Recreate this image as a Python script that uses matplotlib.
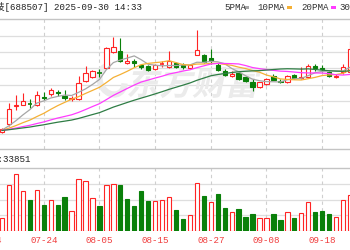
import matplotlib
matplotlib.use("Agg")
import matplotlib.pyplot as plt
import numpy as np
from matplotlib.patches import Rectangle, PathPatch, Arc
from matplotlib.lines import Line2D
from matplotlib.textpath import TextPath
from matplotlib.font_manager import FontProperties
from matplotlib.transforms import Affine2D

# ---------------- data ----------------
trade_dates = ["07-14", "07-15", "07-16", "07-17", "07-18", "07-21", "07-22", "07-23", "07-24", "07-25",
               "07-28", "07-29", "07-30", "07-31", "08-01", "08-04", "08-05", "08-06", "08-07", "08-08",
               "08-11", "08-12", "08-13", "08-14", "08-15", "08-18", "08-19", "08-20", "08-21", "08-22",
               "08-25", "08-26", "08-27", "08-28", "08-29", "09-01", "09-02", "09-03", "09-04", "09-05",
               "09-08", "09-09", "09-10", "09-11", "09-12", "09-15", "09-16", "09-17", "09-18", "09-19",
               "09-22", "09-23", "09-24"]
candle_dates = trade_dates[2:]

opens = [63.6, 65.2, 68.8, 69.1, 69.3, 69.0, 70.66, 71.2, 71.66, 70.86,
         70.26, 70.2, 73.86, 74.66, 75.5, 76.4, 79.6, 79.86, 77.34, 77.7,
         76.9, 76.7, 76.3, 77.06, 76.66, 77.3, 77.0, 76.5, 79.1, 79.0,
         78.34, 77.06, 75.86, 74.9, 75.34, 74.54, 73.54, 72.54, 73.2, 74.86,
         73.86, 73.54, 75.06, 74.4, 74.66, 76.7, 76.4, 75.54, 74.66, 75.54, 75.6]
closes = [64.3, 68.2, 69.0, 69.7, 69.14, 70.9, 70.34, 71.9, 71.34, 70.4,
          70.5, 73.5, 75.34, 75.8, 75.34, 80.4, 80.54, 77.86, 77.8, 77.5,
          76.6, 76.0, 76.9, 77.2, 77.8, 76.6, 76.54, 76.9, 79.9, 77.6,
          77.74, 76.0, 75.06, 75.14, 74.2, 73.86, 72.54, 73.54, 74.2, 74.1,
          73.6, 74.86, 74.4, 74.66, 76.86, 76.5, 76.2, 74.86, 74.9, 76.54, 80.2]
highs = [64.5, 69.4, 71.0, 71.4, 70.2, 71.9, 71.7, 72.5, 72.0, 72.1,
         70.8, 74.8, 76.8, 76.1, 76.3, 80.7, 82.6, 82.4, 79.2, 78.3,
         77.3, 77.0, 77.2, 77.86, 79.8, 77.6, 77.4, 77.0, 84.0, 79.3,
         80.2, 77.5, 76.2, 75.74, 75.7, 74.8, 74.2, 73.7, 74.4, 75.3,
         74.2, 75.0, 75.3, 76.54, 77.2, 77.2, 77.06, 75.8, 75.2, 77.2, 81.8]
lows = [63.4, 64.8, 68.0, 69.0, 68.4, 68.8, 70.0, 70.8, 70.8, 70.1,
        69.8, 70.1, 73.7, 74.5, 74.6, 76.2, 79.4, 77.54, 77.2, 76.6,
        76.3, 75.9, 76.0, 76.66, 76.4, 76.4, 76.3, 76.4, 79.0, 77.4,
        77.2, 75.8, 74.9, 74.6, 74.0, 73.7, 71.74, 72.4, 73.0, 74.0,
        73.4, 73.4, 74.3, 74.3, 74.5, 75.74, 75.54, 74.7, 74.4, 75.2, 75.4]
volumes = [17100, 58300, 73200, 50600, 39200, 51900, 33700, 39200, 33700, 43400,
           25100, 66900, 63400, 42600, 31900, 58300, 60500, 59200, 40400, 32400,
           50600, 37900, 37900, 40100, 43400, 27300, 15800, 20400, 61800, 44700,
           36600, 47200, 29900, 23900, 28600, 18400, 21700, 17100, 17100, 21700,
           13700, 23900, 17100, 22600, 36600, 23900, 26000, 21700, 18400, 40100, 46400]
ma5 = [63.98, 64.84, 65.86, 67.02, 68.07, 69.39, 69.82, 70.40, 70.72, 70.98,
       70.90, 71.53, 72.22, 73.11, 74.10, 76.08, 77.48, 77.99, 78.39, 78.82,
       78.06, 77.15, 76.96, 76.84, 76.90, 76.90, 77.01, 77.01, 77.55, 77.51,
       77.74, 77.63, 77.26, 76.31, 75.63, 74.85, 74.16, 73.86, 73.67, 73.65,
       73.60, 74.06, 74.23, 74.32, 74.88, 75.46, 75.72, 75.82, 75.86, 75.80, 76.54]
ma10 = [63.94, 64.37, 64.88, 65.46, 65.98, 66.68, 67.33, 68.13, 68.87, 69.52,
        70.14, 70.67, 71.31, 71.92, 72.54, 73.49, 74.51, 75.10, 75.75, 76.46,
        77.07, 77.32, 77.47, 77.61, 77.86, 77.48, 77.08, 76.98, 77.19, 77.20,
        77.32, 77.32, 77.13, 76.93, 76.57, 76.29, 75.89, 75.56, 74.99, 74.64,
        74.22, 74.11, 74.04, 74.00, 74.26, 74.53, 74.89, 75.02, 75.09, 75.34, 76.00]
ma20 = [63.92, 64.13, 64.39, 64.68, 64.94, 65.29, 65.61, 66.01, 66.39, 66.71,
        67.04, 67.52, 68.09, 68.69, 69.26, 70.08, 70.92, 71.61, 72.31, 72.99,
        73.60, 73.99, 74.39, 74.76, 75.20, 75.48, 75.79, 76.04, 76.47, 76.83,
        77.19, 77.32, 77.30, 77.27, 77.21, 76.89, 76.49, 76.27, 76.09, 75.92,
        75.77, 75.71, 75.59, 75.46, 75.41, 75.41, 75.39, 75.29, 75.04, 74.99, 75.11]
ma30 = [63.91, 64.06, 64.23, 64.42, 64.59, 64.83, 65.04, 65.31, 65.56, 65.77,
        65.99, 66.31, 66.70, 67.09, 67.47, 68.02, 68.58, 69.04, 69.51, 69.96,
        70.38, 70.79, 71.22, 71.66, 72.13, 72.55, 72.97, 73.40, 73.94, 74.39,
        74.84, 75.10, 75.30, 75.49, 75.65, 75.75, 75.83, 75.88, 75.98, 76.10,
        76.20, 76.25, 76.22, 76.18, 76.23, 76.10, 75.96, 75.86, 75.76, 75.73, 75.85]
tick_labels = ["07-14", "07-24", "08-05", "08-15", "08-27", "09-08", "09-18"]
legend_names = ["5PMA", "10PMA", "20PMA", "30PMA"]
title_text = "索辰科技[688507] 2025-09-30 14:33"
vol_text = "VOL:33851"

# ---------------- layout / style ----------------
W, H = 350, 250
UP = "#ff2424"
DN = "#0a800a"
MA_COLORS = ["#a6a6a6", "#f5b035", "#ff3cff", "#2f7d45"]
MONO = ["Liberation Mono", "Noto Sans CJK SC"]


def fx(px):
    return px / W


def fy(py):
    return 1 - py / H


fig = plt.figure(figsize=(W / 100, H / 100), dpi=100)
fig.patch.set_facecolor("white")

ax_p = fig.add_axes([0, fy(149), 1, (149 - 19) / H])
ax_v = fig.add_axes([0, fy(231), 1, (231 - 168) / H])
step = 6.96
x0 = trade_dates.index(candle_dates[0]) - 2.0 / step
x1 = x0 + W / step
for ax in (ax_p, ax_v):
    ax.set_xlim(x0, x1)
    ax.axis("off")
ax_p.set_ylim(60.2, 86.2)
ax_v.set_ylim(0, 80400)

# grid
for k in range(7):
    ax_p.axhline(82.9 - 3.29 * k, color="#dedede", lw=0.9, zorder=0)
for k in range(1, 4):
    ax_v.axhline(20100 * k, color="#dedede", lw=0.9, zorder=0)
for lbl in tick_labels:
    xi = trade_dates.index(lbl)
    for ax in (ax_p, ax_v):
        ax.axvline(xi, color="#cfcfcf", lw=0.8, ls=(0, (3, 3)), zorder=0)
    ax_v.text(xi, -0.15, lbl, transform=ax_v.get_xaxis_transform(), ha="center",
              va="center", fontsize=6.6, family=MONO, color="#f03c3c", clip_on=False)

for py in (18.5, 149.3, 168.3):
    fig.add_artist(Line2D([0, 1], [fy(py), fy(py)], transform=fig.transFigure,
                          color="#c4c4c4", lw=1.0))

# watermark (logo swirl + name)
wm = "#ebebeb"
ax_p.add_patch(Arc((112, H - 80), 24, 30, angle=25, theta1=70, theta2=320,
                   transform=Affine2D(), color=wm, lw=4.5, zorder=0.5, clip_on=False))
fp = FontProperties(family="Noto Sans CJK SC", weight="bold")
tp = TextPath((0, 0), "东方财富", size=33, prop=fp)
tr = Affine2D().skew_deg(12, 0).translate(126, H - 95)
ax_p.add_patch(PathPatch(tp, transform=tr, fc=wm, ec="none", zorder=0.5, clip_on=False))

# candles
xs = np.array([trade_dates.index(d) for d in candle_dates])
bw = 0.62
for k in range(len(xs)):
    xi, o, c, h, l = xs[k], opens[k], closes[k], highs[k], lows[k]
    up = c >= o
    col = UP if up else DN
    top, bot = max(o, c), min(o, c)
    ax_p.vlines(xi, top, h, color=col, lw=0.8, zorder=2)
    ax_p.vlines(xi, l, bot, color=col, lw=0.8, zorder=2)
    if top - bot < 0.2:
        ax_p.hlines((top + bot) / 2, xi - bw / 2, xi + bw / 2, color=col, lw=1.2, zorder=2)
    else:
        ax_p.add_patch(Rectangle((xi - bw / 2, bot), bw, top - bot,
                                 fc="white" if up else DN, ec=col, lw=0.8, zorder=2))

for vals, col in zip((ma5, ma10, ma20, ma30), MA_COLORS):
    ax_p.plot(xs, vals, color=col, lw=0.9, zorder=3)

# volume
for k in range(len(xs)):
    up = closes[k] >= (closes[k - 1] if k > 0 else opens[k])
    col = UP if up else DN
    ax_v.add_patch(Rectangle((xs[k] - bw / 2, 0), bw, volumes[k],
                             fc="white" if up else DN, ec=col, lw=0.8, zorder=2))

# texts
fig.text(fx(142), fy(7.5), title_text, ha="right", va="center", fontsize=6.6,
         family=MONO, color="#222222")
fig.text(fx(31), fy(160), vol_text, ha="right", va="center", fontsize=6.6,
         family=MONO, color="#222222")
leg_x = [224, 257, 301, 339]
mark_x = [244, 287, 331, 375]
for name, lx, mx, col in zip(legend_names, leg_x, mark_x, MA_COLORS):
    fig.text(fx(lx), fy(7.5), name, ha="left", va="center", fontsize=6.6,
             family=MONO, color="#333333")
    fig.add_artist(Rectangle((fx(mx), fy(9)), fx(5), 3 / H, transform=fig.transFigure,
                             fc=col, ec="none"))

fig.savefig("out.png", dpi=100, facecolor="white")
